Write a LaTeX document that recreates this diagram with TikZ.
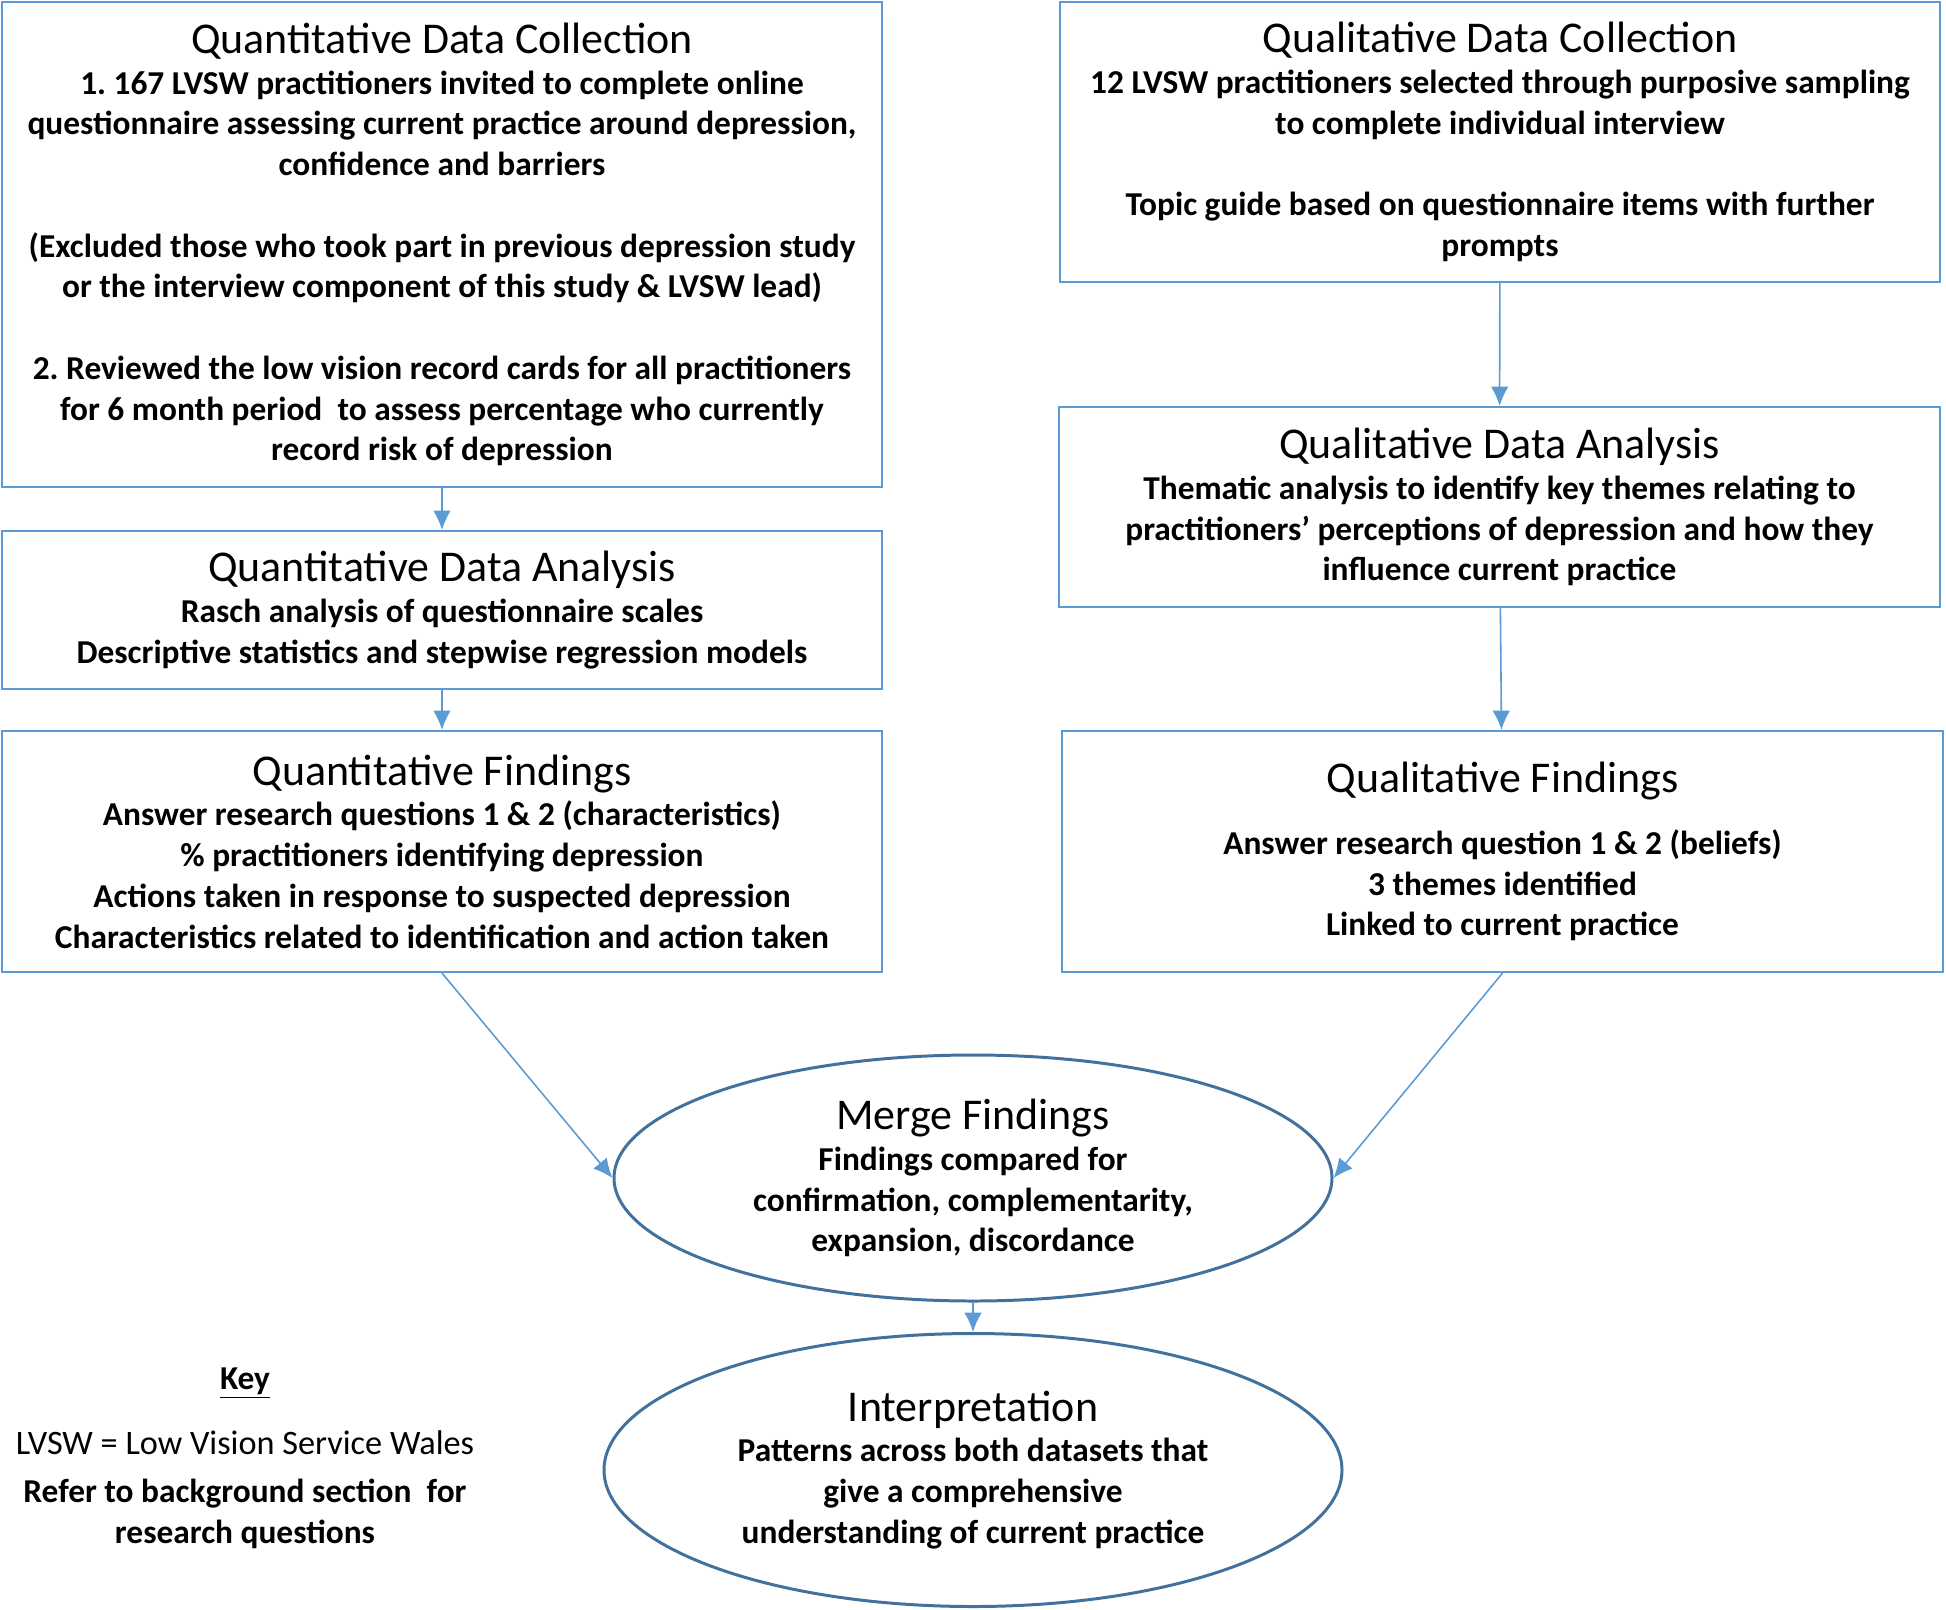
\documentclass[tikz,border=0pt]{standalone}
\usepackage{fontspec}
\setmainfont{Carlito}
\usetikzlibrary{shapes.geometric,arrows.meta}

\definecolor{boxblue}{RGB}{91,155,213}
\definecolor{ovalblue}{RGB}{65,113,156}
\newcommand{\bodyfont}{\fontsize{19}{23.2}\selectfont\bfseries\frenchspacing}
\newcommand{\headfont}{\fontsize{25}{28}\selectfont\mdseries}

\begin{document}
\begin{tikzpicture}[x=0.02cm, y=-0.02cm,
  box/.style={draw=boxblue, line width=1.2pt, align=center, inner sep=0pt, font=\bodyfont},
  oval/.style={ellipse, draw=ovalblue, line width=1.7pt, align=center, inner sep=0pt, font=\bodyfont},
  link/.style={->, >={Latex[length=11pt,width=10pt]}, draw=boxblue, line width=0.9pt}]

\useasboundingbox (0,0) rectangle (1946,1609);

% Quantitative strand
  \node[box, minimum width=880*0.02cm, minimum height=485*0.02cm] (qndc) at (442,244.5)
    {{\headfont Quantitative Data Collection}\\[0pt]
     1. 167 LVSW practitioners invited to complete online\\
     questionnaire assessing current practice around depression,\\
     confidence and barriers\\[23.2pt]
     (Excluded those who took part in previous depression study\\
     or the interview component of this study \& LVSW lead)\\[23.2pt]
     2. Reviewed the low vision record cards for all practitioners\\
     for 6 month period\ \ to assess percentage who currently\\
     record risk of depression};
  \node[box, minimum width=880*0.02cm, minimum height=158*0.02cm] (qnda) at (442,610)
    {{\headfont Quantitative Data Analysis}\\[0pt]
     Rasch analysis of questionnaire scales\\
     Descriptive statistics and stepwise regression models};
  \node[box, minimum width=880*0.02cm, minimum height=241*0.02cm] (qnf) at (442,851.5)
    {{\headfont Quantitative Findings}\\[0pt]
     Answer research questions 1 \& 2 (characteristics)\\
     \% practitioners identifying depression\\
     Actions taken in response to suspected depression\\
     Characteristics related to identification and action taken};

% Qualitative strand
  \node[box, minimum width=880*0.02cm, minimum height=280*0.02cm] (qldc) at (1500,142)
    {{\headfont Qualitative Data Collection}\\[0pt]
     12 LVSW practitioners selected through purposive sampling\\
     to complete individual interview\\[23.2pt]
     Topic guide based on questionnaire items with further\\
     prompts};
  \node[box, minimum width=881*0.02cm, minimum height=200*0.02cm] (qlda) at (1499.5,507)
    {{\headfont Qualitative Data Analysis}\\[0pt]
     Thematic analysis to identify key themes relating to\\
     practitioners' perceptions of depression and how they\\
     influence current practice};
  \node[box, minimum width=881*0.02cm, minimum height=241*0.02cm] (qlf) at (1502.5,851.5)
    {{\headfont Qualitative Findings}\\[12pt]
     Answer research question 1 \& 2 (beliefs)\\
     3 themes identified\\
     Linked to current practice};

% Merge and interpretation
  \node[oval, minimum width=718*0.02cm, minimum height=246*0.02cm] (merge) at (973,1178)
    {{\headfont Merge Findings}\\[0pt]
     Findings compared for\\
     confirmation, complementarity,\\
     expansion, discordance};
  \node[oval, minimum width=738*0.02cm, minimum height=273*0.02cm] (interp) at (973,1470)
    {{\headfont Interpretation}\\[0pt]
     Patterns across both datasets that\\
     give a comprehensive\\
     understanding of current practice};

% Key
  \node[align=center, font=\bodyfont] (key) at (245,1458)
    {\underline{Key}\\[14pt]
     {\fontsize{19.5}{23.2}\selectfont\mdseries LVSW = Low Vision Service Wales}\\[4pt]
     Refer to background section\ \ for\\
     research questions};

% Arrows
  \draw[link] (qndc) -- (qnda);
  \draw[link] (qnda) -- (qnf);
  \draw[link] (qldc) -- (qlda);
  \draw[link] (qlda) -- (qlf);
  \draw[link] (qnf.south) -- (merge.west);
  \draw[link] (qlf.south) -- (merge.east);
  \draw[link] (merge) -- (interp);

\end{tikzpicture}
\end{document}
